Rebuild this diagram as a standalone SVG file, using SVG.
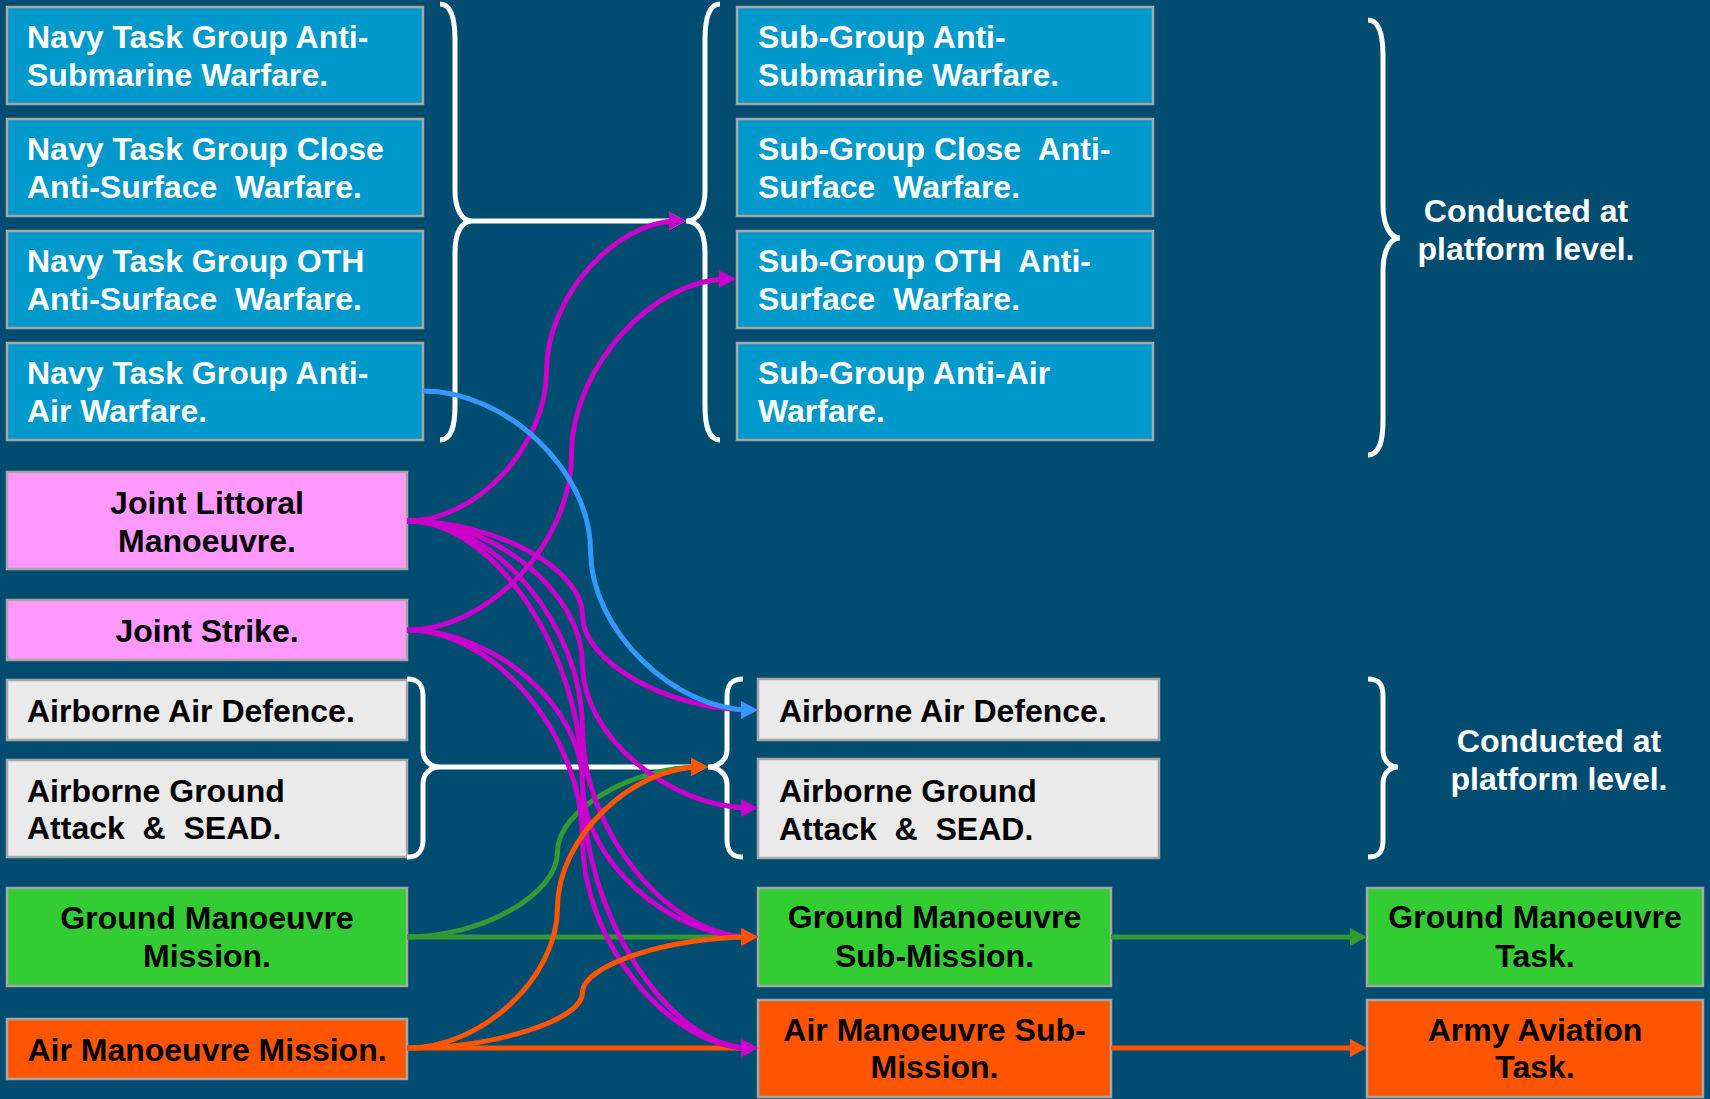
<svg xmlns="http://www.w3.org/2000/svg" width="1710" height="1099" viewBox="0 0 1710 1099">
  <defs>
    <style>
      .bg { fill: #014C71; }
      .box { stroke: #A6A6A6; stroke-width: 2.5; }
      .navy { fill: #0099CC; }
      .joint { fill: #FF99FF; }
      .air { fill: #EAEAEA; }
      .ground { fill: #33CC33; }
      .avn { fill: #FF5500; }
      text { font-family: "Liberation Sans", Arial, sans-serif; font-weight: bold; font-size: 32px; white-space: pre; }
      .wt { fill: #FFFFFF; }
      .bk { fill: #000000; }
      .mid { text-anchor: middle; }
      .brace { fill: none; stroke: #FFFFFF; stroke-width: 5; }
      .c { fill: none; stroke-width: 5; }
      .w { stroke: #FFFFFF; }
      .m { stroke: #CC00CC; }
      .b { stroke: #3399FF; }
      .g { stroke: #339933; }
      .o { stroke: #FF5500; }
    </style>
    <marker id="aw" markerUnits="userSpaceOnUse" viewBox="0 0 20 20" markerWidth="20" markerHeight="20" refX="9" refY="9" orient="auto"><path d="M0,0 L17,9 L0,18 z" fill="#FFFFFF"/></marker>
    <marker id="am" markerUnits="userSpaceOnUse" viewBox="0 0 20 20" markerWidth="20" markerHeight="20" refX="9" refY="9" orient="auto"><path d="M0,0 L17,9 L0,18 z" fill="#CC00CC"/></marker>
    <marker id="ab" markerUnits="userSpaceOnUse" viewBox="0 0 20 20" markerWidth="20" markerHeight="20" refX="9" refY="9" orient="auto"><path d="M0,0 L17,9 L0,18 z" fill="#3399FF"/></marker>
    <marker id="ag" markerUnits="userSpaceOnUse" viewBox="0 0 20 20" markerWidth="20" markerHeight="20" refX="9" refY="9" orient="auto"><path d="M0,0 L17,9 L0,18 z" fill="#339933"/></marker>
    <marker id="ao" markerUnits="userSpaceOnUse" viewBox="0 0 20 20" markerWidth="20" markerHeight="20" refX="9" refY="9" orient="auto"><path d="M0,0 L17,9 L0,18 z" fill="#FF5500"/></marker>
  </defs>

  <rect class="bg" x="0" y="0" width="1710" height="1099"/>

  <!-- Navy task group column -->
  <g id="ntg-asw"><rect class="box navy" x="7" y="7" width="416" height="97"/>
    <text class="wt" x="27" y="48">Navy Task Group Anti-</text><text class="wt" x="27" y="86">Submarine Warfare.</text></g>
  <g id="ntg-close-asuw"><rect class="box navy" x="7" y="119" width="416" height="97"/>
    <text class="wt" x="27" y="160">Navy Task Group Close</text><text class="wt" x="27" y="198">Anti-Surface  Warfare.</text></g>
  <g id="ntg-oth-asuw"><rect class="box navy" x="7" y="231" width="416" height="97"/>
    <text class="wt" x="27" y="272">Navy Task Group OTH</text><text class="wt" x="27" y="310">Anti-Surface  Warfare.</text></g>
  <g id="ntg-aaw"><rect class="box navy" x="7" y="343" width="416" height="97"/>
    <text class="wt" x="27" y="384">Navy Task Group Anti-</text><text class="wt" x="27" y="422">Air Warfare.</text></g>

  <!-- Sub-group column -->
  <g id="sg-asw"><rect class="box navy" x="737" y="7" width="416" height="97"/>
    <text class="wt" x="758" y="48">Sub-Group Anti-</text><text class="wt" x="758" y="86">Submarine Warfare.</text></g>
  <g id="sg-close-asuw"><rect class="box navy" x="737" y="119" width="416" height="97"/>
    <text class="wt" x="758" y="160">Sub-Group Close  Anti-</text><text class="wt" x="758" y="198">Surface  Warfare.</text></g>
  <g id="sg-oth-asuw"><rect class="box navy" x="737" y="231" width="416" height="97"/>
    <text class="wt" x="758" y="272">Sub-Group OTH  Anti-</text><text class="wt" x="758" y="310">Surface  Warfare.</text></g>
  <g id="sg-aaw"><rect class="box navy" x="737" y="343" width="416" height="97"/>
    <text class="wt" x="758" y="384">Sub-Group Anti-Air</text><text class="wt" x="758" y="422">Warfare.</text></g>

  <g id="note-top">
    <text class="wt mid" x="1526" y="222">Conducted at</text>
    <text class="wt mid" x="1526" y="260">platform level.</text>
  </g>

  <!-- Joint, airborne and land missions -->
  <g id="joint-littoral"><rect class="box joint" x="7" y="472" width="400" height="97"/>
    <text class="bk mid" x="207" y="514">Joint Littoral</text><text class="bk mid" x="207" y="552">Manoeuvre.</text></g>
  <g id="joint-strike"><rect class="box joint" x="7" y="600" width="400" height="60"/>
    <text class="bk mid" x="207" y="642">Joint Strike.</text></g>
  <g id="aad-left"><rect class="box air" x="7" y="680" width="400" height="60"/>
    <text class="bk" x="27" y="722">Airborne Air Defence.</text></g>
  <g id="aga-left"><rect class="box air" x="7" y="760" width="400" height="97"/>
    <text class="bk" x="27" y="802">Airborne Ground</text><text class="bk" x="27" y="839">Attack  &amp;  SEAD.</text></g>
  <g id="gm-mission"><rect class="box ground" x="7" y="888" width="400" height="98"/>
    <text class="bk mid" x="207" y="929">Ground Manoeuvre</text><text class="bk mid" x="207" y="967">Mission.</text></g>
  <g id="am-mission"><rect class="box avn" x="7" y="1019" width="400" height="60"/>
    <text class="bk mid" x="207" y="1061">Air Manoeuvre Mission.</text></g>

  <g id="aad-right"><rect class="box air" x="758" y="679" width="401" height="61"/>
    <text class="bk" x="779" y="722">Airborne Air Defence.</text></g>
  <g id="aga-right"><rect class="box air" x="758" y="759" width="401" height="99"/>
    <text class="bk" x="779" y="802">Airborne Ground</text><text class="bk" x="779" y="840">Attack  &amp;  SEAD.</text></g>
  <g id="gm-submission"><rect class="box ground" x="758" y="888" width="353" height="98"/>
    <text class="bk mid" x="934.5" y="928">Ground Manoeuvre</text><text class="bk mid" x="934.5" y="967">Sub-Mission.</text></g>
  <g id="am-submission"><rect class="box avn" x="758" y="1000" width="353" height="97"/>
    <text class="bk mid" x="934.5" y="1041">Air Manoeuvre Sub-</text><text class="bk mid" x="934.5" y="1078">Mission.</text></g>

  <g id="note-bottom">
    <text class="wt mid" x="1559" y="752">Conducted at</text>
    <text class="wt mid" x="1559" y="790">platform level.</text>
  </g>

  <g id="gm-task"><rect class="box ground" x="1367" y="888" width="336" height="98"/>
    <text class="bk mid" x="1535" y="928">Ground Manoeuvre</text><text class="bk mid" x="1535" y="967">Task.</text></g>
  <g id="aa-task"><rect class="box avn" x="1367" y="1000" width="336" height="97"/>
    <text class="bk mid" x="1535" y="1041">Army Aviation</text><text class="bk mid" x="1535" y="1078">Task.</text></g>

  <!-- Braces -->
  <g id="braces">
    <path class="brace" d="M440 4 C452 4 455 20 455 40 L455 190 C455 210 462 221 472 221 C462 221 455 232 455 252 L455 405 C455 425 452 440 440 440"/>
    <path class="brace" d="M720 4 C708 4 705 20 705 40 L705 190 C705 210 698 221 686 221 C698 221 705 232 705 252 L705 405 C705 425 708 440 720 440"/>
    <path class="brace" d="M1368 20 C1380 20 1383 36 1383 56 L1383 205 C1383 225 1390 238 1400 238 C1390 238 1383 251 1383 271 L1383 420 C1383 440 1380 455 1368 455"/>
    <path class="brace" d="M407 679 C419 679 423 685 423 697 L423 750 C423 760 430 767 440 767 C430 767 423 774 423 784 L423 839 C423 851 419 857 407 857"/>
    <path class="brace" d="M743 679 C731 679 727 685 727 697 L727 750 C727 760 718 767 708 767 C718 767 727 774 727 784 L727 839 C727 851 731 857 743 857"/>
    <path class="brace" d="M1368 679 C1380 679 1383 685 1383 697 L1383 750 C1383 760 1389 767 1398 767 C1389 767 1383 774 1383 784 L1383 839 C1383 851 1380 857 1368 857"/>
  </g>

  <!-- Connectors -->
  <g id="connectors">
    <path class="c w" d="M472 221 L678 221" marker-end="url(#aw)"/>
    <path class="c w" d="M440 767 L700 767" marker-end="url(#aw)"/>

    <path class="c g" d="M407 937 C482.25 937 557.5 894.5 557.5 852 C557.5 809.5 632.75 767 700 767" marker-end="url(#ag)"/>
    <path class="c g" d="M407 937 L750 937" marker-end="url(#ag)"/>
    <path class="c o" d="M407 1048 L750 1048" marker-end="url(#ao)"/>

    <path class="c m" d="M407 521 C476.75 521 546.5 446 546.5 371 C546.5 296 616.25 221 678 221" marker-end="url(#am)"/>
    <path class="c m" d="M407 630 C489.25 630 571.5 542.25 571.5 454.5 C571.5 366.75 653.75 279 728 279" marker-end="url(#am)"/>
    <path class="c m" d="M407 521 C494.75 521 582.5 568.25 582.5 615.5 C582.5 662.75 670.25 710 750 710" marker-end="url(#am)"/>
    <path class="c m" d="M407 521 C494.75 521 582.5 592.75 582.5 664.5 C582.5 736.25 670.25 808 750 808" marker-end="url(#am)"/>
    <path class="c m" d="M407 521 C494.75 521 582.5 625 582.5 729 C582.5 833 670.25 937 750 937" marker-end="url(#am)"/>
    <path class="c m" d="M407 521 C494.75 521 582.5 652.75 582.5 784.5 C582.5 916.25 670.25 1048 750 1048" marker-end="url(#am)"/>
    <path class="c m" d="M407 630 C494.75 630 582.5 706.75 582.5 783.5 C582.5 860.25 670.25 937 750 937" marker-end="url(#am)"/>
    <path class="c m" d="M407 630 C494.75 630 582.5 734.5 582.5 839 C582.5 943.5 670.25 1048 750 1048" marker-end="url(#am)"/>

    <path class="c b" d="M423 391 C506.75 391 590.5 470.75 590.5 550.5 C590.5 630.25 674.25 710 750 710" marker-end="url(#ab)"/>

    <path class="c o" d="M407 1048 C494.75 1048 582.5 1020.25 582.5 992.5 C582.5 964.75 670.25 937 750 937" marker-end="url(#ao)"/>
    <path class="c o" d="M407 1048 C482.25 1048 557.5 977.75 557.5 907.5 C557.5 837.25 632.75 767 700 767" marker-end="url(#ao)"/>

    <path class="c g" d="M1111 937 L1359 937" marker-end="url(#ag)"/>
    <path class="c o" d="M1111 1048 L1359 1048" marker-end="url(#ao)"/>
  </g>
</svg>
